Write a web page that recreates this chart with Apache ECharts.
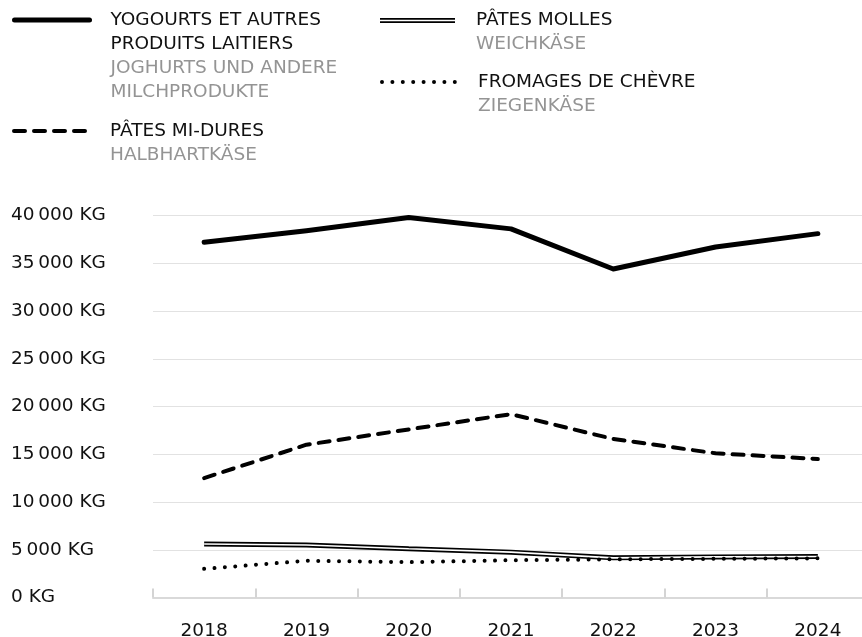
<!DOCTYPE html>
<html>
<head>
<meta charset="utf-8">
<script src="https://cdn.jsdelivr.net/npm/echarts@6/dist/echarts.min.js"></script>
<style>
  html, body { margin: 0; padding: 0; background: #fff; }
  #chart { width: 862px; height: 637px; }
</style>
</head>
<body>
<div id="chart"></div>
<script>
// données (kg)
var annees = ['2018', '2019', '2020', '2021', '2022', '2023', '2024'];
var yogourts = [37200, 38400, 39800, 38600, 34400, 36700, 38100];
var patesMiDures = [12500, 16000, 17600, 19200, 16600, 15100, 14500];
var patesMolles = [5600, 5500, 5100, 4750, 4150, 4250, 4300];
var fromagesChevre = [3000, 3850, 3700, 3900, 4000, 4050, 4100];
var yMax = 40000, yStep = 5000;

var noms = {
    yog: 'YOGOURTS ET AUTRES\nPRODUITS LAITIERS|JOGHURTS UND ANDERE\nMILCHPRODUKTE',
    molles: 'PÂTES MOLLES|WEICHKÄSE',
    chevre: 'FROMAGES DE CHÈVRE|ZIEGENKÄSE',
    midures: 'PÂTES MI-DURES|HALBHARTKÄSE'
};

var police = '"DejaVu Sans", sans-serif';
var taille = 18.5;
var lh = 24;

function etiquette(name) {
    var parts = name.split('|');
    var fr = parts[0].split('\n').map(function (l) { return '{fr|' + l + '}'; });
    var de = parts[1].split('\n').map(function (l) { return '{de|' + l + '}'; });
    return fr.concat(de).join('\n');
}
function nbLignes(name) {
    return name.replace('|', '\n').split('\n').length;
}

// une légende par entrée, l'icône alignée sur la première ligne du texte
function legende(name, left, iconY, extra) {
    var n = nbLignes(name);
    var h = n * lh;
    var padTop = h - lh;
    var total = h + padTop;
    var lg = {
        data: [name],
        left: left,
        top: iconY - total / 2,
        orient: 'vertical',
        padding: 0,
        itemWidth: 75,
        itemHeight: 5,
        selectedMode: false,
        formatter: etiquette,
        itemStyle: { opacity: 0 },
        lineStyle: extra.lineStyle,
        textStyle: {
            padding: [padTop, 0, 0, 16],
            backgroundColor: 'rgba(0,0,0,0)',
            rich: {
                fr: { fontFamily: police, fontSize: taille, color: '#111', lineHeight: lh },
                de: { fontFamily: police, fontSize: taille, color: '#949494', lineHeight: lh }
            }
        }
    };
    if (extra.icon) {
        lg.data = [{ name: name, icon: extra.icon }];
        lg.itemStyle = { color: '#000', opacity: 1 };
    }
    return lg;
}

function kg(v) {
    return String(v).replace(/\B(?=(\d{3})+(?!\d))/g, '\u2009') + ' KG';
}

var myChart = echarts.init(document.getElementById('chart'));

var option = {
    animation: false,
    backgroundColor: '#fff',
    legend: [
        legende(noms.yog, 12, 20, { lineStyle: { width: 5, cap: 'round' } }),
        legende(noms.midures, 12, 131, { lineStyle: { width: 4, type: [11, 9], cap: 'round' } }),
        legende(noms.molles, 380, 20.5, { icon: 'path://M0,0H75V1.7H0Z M0,3.3H75V5H0Z' }),
        legende(noms.chevre, 380, 82, { lineStyle: { width: 4, type: [0.001, 10.4], cap: 'round' } })
    ],
    grid: {
        left: 153,
        top: 215.5,
        width: 716,
        height: 382,
        containLabel: false,
        outerBoundsMode: 'none'
    },
    xAxis: {
        type: 'category',
        data: annees,
        boundaryGap: true,
        axisLine: { lineStyle: { color: '#d9d9d9', width: 2 } },
        axisTick: { show: true, inside: true, length: 9, lineStyle: { color: '#d4d4d4', width: 2 } },
        axisLabel: { fontFamily: police, fontSize: taille, color: '#111', margin: 24 }
    },
    yAxis: {
        type: 'value',
        min: 0,
        max: yMax,
        interval: yStep,
        axisLine: { show: false },
        axisTick: { show: false },
        splitLine: { lineStyle: { color: '#e2e2e2', width: 1 } },
        axisLabel: {
            fontFamily: police, fontSize: taille, color: '#111',
            align: 'left', margin: 142,
            formatter: kg
        }
    },
    series: [
        {
            name: noms.yog, type: 'line', data: yogourts, symbol: 'none',
            lineStyle: { color: '#000', width: 5, cap: 'round', join: 'round' }
        },
        {
            name: noms.midures, type: 'line', data: patesMiDures, symbol: 'none',
            lineStyle: { color: '#000', width: 4, type: [11, 9], cap: 'round', join: 'round' }
        },
        {
            name: noms.molles, type: 'line', data: patesMolles, symbol: 'none',
            lineStyle: { color: '#000', width: 5 }
        },
        {
            // trait blanc au centre pour la double ligne
            name: 'molles-interieur', type: 'line', data: patesMolles, symbol: 'none',
            lineStyle: { color: '#fff', width: 1.6 }
        },
        {
            name: noms.chevre, type: 'line', data: fromagesChevre, symbol: 'none',
            lineStyle: { color: '#000', width: 4, type: [0.001, 10.4], cap: 'round' }
        }
    ]
};

myChart.setOption(option);
</script>
</body>
</html>
